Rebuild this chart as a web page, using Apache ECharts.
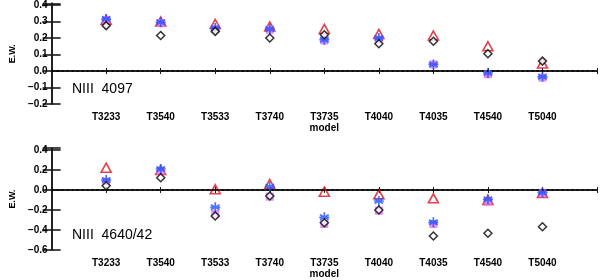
<!DOCTYPE html>
<html><head><meta charset="utf-8">
<script src="https://cdn.jsdelivr.net/npm/echarts@6/dist/echarts.min.js"></script>
<style>html,body{margin:0;padding:0;background:#fff}#c{width:600px;height:280px}</style>
</head><body><div id="c"></div>
<script>
const categories = ['T3233','T3540','T3533','T3740','T3735','T4040','T4035','T4540','T5040'];
// Panel 1: NIII 4097
const p1Diamond  = [0.275, 0.215, 0.24, 0.20, 0.22, 0.165, 0.18, 0.105, 0.06];
const p1Triangle = [0.31, 0.30, 0.285, 0.27, 0.255, 0.225, 0.215, 0.15, 0.045];
const p1Square   = [0.31, 0.29, 0.255, 0.25, 0.185, 0.19, 0.04, -0.02, -0.04];
const p1Star     = [0.315, 0.295, 0.26, 0.255, 0.19, 0.20, 0.04, -0.012, -0.035];
// Panel 2: NIII 4640/42
const p2Diamond  = [0.043, 0.123, -0.26, -0.06, -0.327, -0.20, -0.46, -0.433, -0.367];
const p2Triangle = [0.223, 0.20, 0.007, 0.06, -0.017, -0.043, -0.083, -0.10, -0.03];
const p2Square   = [0.083, 0.19, -0.24, -0.067, -0.34, -0.207, -0.34, -0.117, -0.033];
const p2Star     = [0.10, 0.21, -0.173, 0.033, -0.273, -0.11, -0.323, -0.093, -0.027];
const panelTitles = ['NIII  4097', 'NIII  4640/42'];
const yTicks1 = [-0.2, 0.4, 0.1];  // min, max label, interval
const yTicks2 = [-0.6, 0.4, 0.2];

const pts = arr => arr.map((v, i) => [i + 1, v]);
const STAR = 'path://M0,-10L0,10M-8.66,-5L8.66,5M-8.66,5L8.66,-5M-10,0L10,0';
const axisCol = '#1a1a1a';
const font = 'Liberation Sans, Arial, sans-serif';

function grid(top, height) { return { left: 44, right: 2, top: top, height: height }; }

function xAxes(gi) {
  return [{
    type: 'value', gridIndex: gi, min: 0, max: 10, interval: 1, position: 'bottom',
    name: 'model', nameLocation: 'middle', nameGap: 19,
    nameTextStyle: { fontFamily: font, fontWeight: 'bold', fontSize: 10, color: '#000' },
    axisLine: { lineStyle: { color: axisCol, width: 1.6 } },
    axisTick: { inside: true, length: 3, lineStyle: { color: axisCol } },
    axisLabel: { fontFamily: font, fontWeight: 'bold', fontSize: 10, color: '#000', margin: 8,
      formatter: v => (v >= 1 && v <= 9 && Number.isInteger(v)) ? categories[v - 1] : '' },
    splitLine: { show: false }
  }, {
    type: 'value', gridIndex: gi, min: 0, max: 10, interval: 1, position: 'top',
    axisLine: { lineStyle: { color: axisCol, width: 1.6 } },
    axisTick: { inside: true, length: 3, lineStyle: { color: axisCol } },
    axisLabel: { show: false }, splitLine: { show: false }
  }];
}
function yAxes(gi, t, max) {
  return [{
    type: 'value', gridIndex: gi, min: t[0], max: max, interval: t[2], position: 'left',
    name: 'E.W.', nameLocation: 'middle', nameGap: 30, nameRotate: 90,
    nameTextStyle: { fontFamily: font, fontWeight: 'bold', fontSize: 9, color: '#000' },
    axisLine: { lineStyle: { color: axisCol, width: 1.6 } },
    axisTick: { inside: true, length: 9, lineStyle: { color: axisCol, width: 1.6 } },
    axisLabel: { fontFamily: font, fontWeight: 'bold', fontSize: 10, color: '#000', margin: 4,
      formatter: v => (v > t[1] + 1e-6) ? '' : (v < 0 ? '\u2212' + Math.abs(v).toFixed(1) : v.toFixed(1)) },
    splitLine: { show: false }
  }, {
    type: 'value', gridIndex: gi, min: t[0], max: max, interval: t[2], position: 'right',
    axisLine: { lineStyle: { color: axisCol, width: 1.6 } },
    axisTick: { inside: true, length: 9, lineStyle: { color: axisCol, width: 1.6 } },
    axisLabel: { show: false }, splitLine: { show: false }
  }];
}
function seriesFor(gi, tri, sq, st, dia) {
  const xi = gi * 2, yi = gi * 2;
  const base = { type: 'scatter', xAxisIndex: xi, yAxisIndex: yi, silent: true, animation: false };
  return [
    Object.assign({}, base, { data: pts(tri), symbol: 'triangle', symbolSize: [10, 9],
      itemStyle: { color: 'rgba(0,0,0,0)', borderColor: '#e0101c', borderWidth: 1.6 },
      markLine: { silent: true, symbol: 'none', label: { show: false }, animation: false,
        lineStyle: { color: '#000', type: [2, 3], width: 1.5 }, data: [{ yAxis: 0 }] } }),
    Object.assign({}, base, { data: pts(sq), symbol: 'rect', symbolSize: 8,
      itemStyle: { color: '#dc72f0' } }),
    Object.assign({}, base, { data: pts(st), symbol: STAR, symbolSize: 10,
      itemStyle: { color: 'rgba(0,0,0,0)', borderColor: '#1f52ff', borderWidth: 1.7 } }),
    Object.assign({}, base, { data: pts(dia), symbol: 'diamond', symbolSize: 8,
      itemStyle: { color: '#fff', borderColor: '#000', borderWidth: 1.5 } })
  ];
}

const chart = echarts.init(document.getElementById('c'), null, { renderer: 'canvas' });
chart.setOption({
  animation: false,
  grid: [grid(3, 101), grid(148, 102)],
  xAxis: [...xAxes(0), ...xAxes(1)],
  yAxis: [...yAxes(0, yTicks1, 0.41), ...yAxes(1, yTicks2, 0.42)],
  series: [...seriesFor(0, p1Triangle, p1Square, p1Star, p1Diamond),
           ...seriesFor(1, p2Triangle, p2Square, p2Star, p2Diamond)],
  graphic: [
    { type: 'text', left: 72, top: 82, style: { text: panelTitles[0], font: '14px Liberation Sans, Arial, sans-serif', fill: '#000' } },
    { type: 'text', left: 72, top: 228, style: { text: panelTitles[1], font: '14px Liberation Sans, Arial, sans-serif', fill: '#000' } }
  ]
});
</script></body></html>
